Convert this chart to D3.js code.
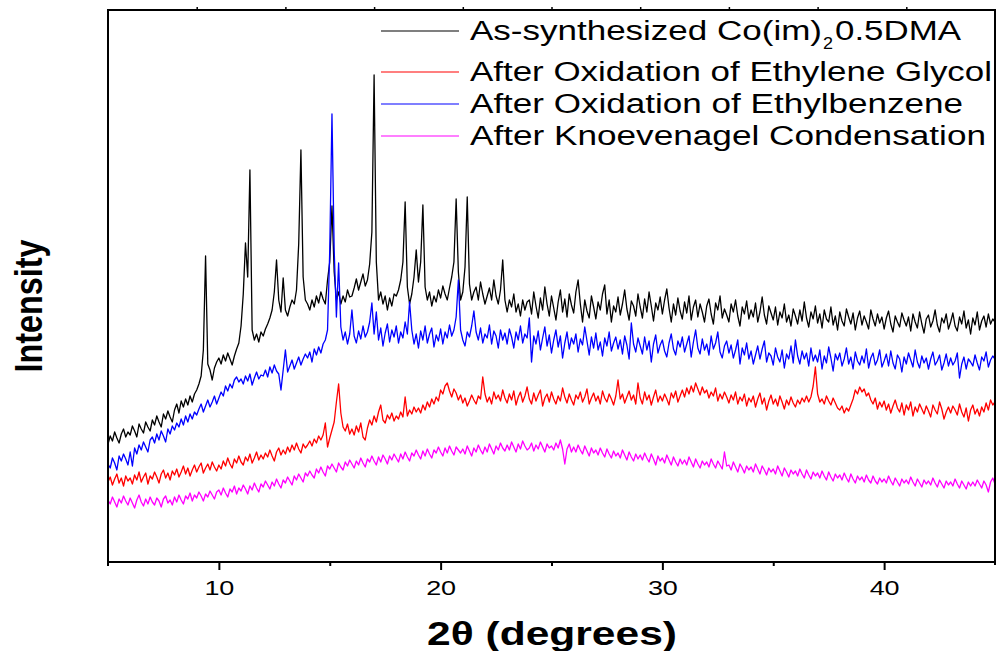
<!DOCTYPE html>
<meta charset="utf-8">
<script src="https://d3js.org/d3.v7.min.js"></script>
<style>
  body { margin: 0; background: #fff; }
  text { font-family: "Liberation Sans", Arial, sans-serif; }
</style>
<div id="chart"></div>
<script>
// 2-theta sampling of the patterns (degrees)
const twoThetaStart = 5, twoThetaStep = 0.1;

// intensities (arbitrary units, offset traces), one row per degree
const asSynth = [
  118,126,121,130,124,119,128,133,125,130,
  127,136,131,125,138,133,129,140,135,131,
  142,137,146,140,135,148,143,151,145,140,
  152,158,149,161,155,163,157,166,160,168,
  172,178,186,212,306,198,192,182,194,200,
  204,198,207,201,209,203,197,206,213,219,
  236,268,319,285,392,232,222,228,220,230,
  226,233,238,244,252,270,302,262,250,284,
  252,246,255,262,258,272,318,412,285,262,
  258,252,262,255,266,259,270,263,258,282,
  300,356,290,262,270,258,266,260,272,265,
  266,274,283,272,280,288,276,282,298,330,
  487,300,262,270,258,266,252,264,256,268,
  266,272,282,300,360,275,258,268,285,312,
  280,300,357,275,262,270,256,266,260,272,
  264,276,268,262,274,285,300,363,290,262,
  270,295,365,278,262,270,275,262,280,268,
  258,266,274,262,282,266,258,272,302,262,
  250,262,255,268,250,258,246,262,252,260,
  262,248,270,256,244,264,252,275,258,246,
  266,254,242,260,272,250,263,245,268,257,
  249,270,282,258,240,262,251,244,266,255,
  243,260,252,268,277,248,262,240,256,250,
  265,247,258,272,253,242,261,256,246,268,
  255,244,263,250,270,256,241,259,252,265,
  248,262,273,254,240,258,247,264,251,243,
  260,249,266,242,255,262,245,258,250,240,
  256,263,248,238,259,252,266,244,253,247,
  240,258,250,262,246,236,255,248,261,243,
  252,245,259,240,250,265,247,238,256,249,
  242,255,237,250,244,258,240,247,236,253,
  246,238,252,241,260,244,235,250,243,256,
  239,248,234,252,243,240,255,237,246,232,
  250,241,236,253,245,238,249,232,244,251,
  237,246,240,233,252,243,236,248,239,245,
  233,244,251,238,230,246,240,235,249,242,
  236,245,231,248,240,234,250,238,229,243,
  247,235,241,252,237,230,244,239,248,233,
  240,249,236,231,245,238,251,234,242,228,
  244,237,250,232,241,246,235,248,238,243,
  240
];

const ethyleneGlycol = [
  80,85,77,83,88,79,84,76,86,81,
  84,78,87,82,90,80,85,89,78,86,
  83,90,85,79,88,92,84,89,82,91,
  87,93,85,90,96,88,94,86,92,97,
  90,95,99,89,94,98,92,100,95,91,
  97,93,101,96,104,98,94,103,99,106,
  100,97,105,101,108,99,104,110,102,107,
  103,109,105,112,106,101,110,114,107,112,
  108,115,110,117,112,119,113,109,118,114,
  117,121,116,123,119,126,122,127,139,115,
  124,132,140,160,178,149,135,131,138,128,
  133,127,136,130,139,125,122,134,142,137,
  146,140,150,157,142,139,147,143,149,141,
  146,143,150,145,165,146,152,148,155,150,
  154,149,157,152,160,155,163,158,165,161,
  172,168,176,179,171,165,173,169,162,167,
  159,164,156,161,167,162,158,166,163,185,
  168,160,165,158,170,163,167,161,172,164,
  159,168,162,171,157,165,170,160,166,175,
  163,158,169,161,167,172,156,164,168,160,
  170,163,158,166,161,174,165,159,168,162,
  157,167,163,170,160,165,173,158,164,169,
  161,166,158,171,164,160,168,163,157,166,
  182,163,168,159,165,171,162,167,158,179,
  164,158,170,162,167,157,165,172,160,166,
  161,168,163,157,169,164,171,160,166,172,
  165,174,168,176,170,179,173,167,175,169,
  172,164,170,166,174,161,168,163,170,165,
  159,167,162,170,158,165,161,168,156,164,
  160,166,155,163,169,158,164,152,161,167,
  158,163,156,166,160,153,162,157,165,159,
  155,162,158,164,160,166,160,165,176,195,
  168,160,163,158,166,161,157,164,159,154,
  152,156,149,154,151,157,163,172,168,175,
  170,173,166,169,162,158,164,153,160,155,
  161,152,158,149,156,162,154,150,159,147,
  157,152,160,146,155,150,158,153,148,156,
  151,145,157,152,148,160,153,143,150,155,
  149,156,152,147,158,150,145,154,141,152,
  157,148,153,146,155,150,159,152,162,157,
  160
];

const ethylbenzene = [
  98,94,104,99,92,106,101,108,103,97,
  110,96,114,108,117,112,120,115,110,122,
  125,119,128,122,131,126,120,133,128,136,
  132,139,135,143,137,146,140,148,143,150,
  147,153,158,150,156,162,155,160,166,158,
  164,170,166,176,171,178,174,182,185,180,
  183,178,186,181,188,177,184,190,183,187,
  186,192,185,195,189,197,191,188,172,192,
  212,190,196,202,193,199,205,197,203,208,
  204,210,200,213,207,215,209,218,222,232,
  312,448,312,245,299,235,222,230,218,228,
  252,226,219,231,223,236,225,230,240,259,
  228,250,222,234,216,229,238,220,232,225,
  236,219,230,224,240,228,260,232,218,228,
  214,231,222,236,219,228,234,215,227,221,
  233,218,230,224,237,226,232,245,282,232,
  222,216,230,225,236,251,230,222,234,219,
  228,224,237,218,231,226,214,232,222,229,
  218,233,225,214,230,222,236,219,228,224,
  244,200,226,218,231,212,224,235,216,227,
  209,222,232,215,226,204,219,230,213,224,
  218,228,210,223,217,235,221,207,225,214,
  229,212,220,206,224,216,230,211,219,225,
  213,222,208,226,217,203,239,218,210,224,
  216,208,225,212,221,200,218,227,209,217,
  222,211,205,219,228,213,207,221,215,225,
  210,218,226,205,220,232,214,208,223,212,
  218,207,226,213,219,230,210,204,216,221,
  209,217,204,212,222,198,214,207,219,203,
  211,198,207,216,203,213,221,200,209,206,
  197,214,205,200,212,194,208,203,216,199,
  222,206,198,211,203,209,196,214,201,207,
  200,212,193,206,199,215,204,191,208,202,
  209,196,203,214,198,205,193,210,201,197,
  206,199,213,194,204,209,197,202,212,195,
  201,208,196,211,199,193,207,203,190,205,
  198,209,202,195,212,200,194,206,199,204,
  193,203,210,197,201,207,192,199,208,196,
  204,197,201,209,184,198,205,193,203,200,
  196,207,199,192,205,201,210,195,202,206,
  203
];

const knoevenagel = [
  62,58,65,60,55,63,59,66,61,57,
  64,59,54,62,67,60,56,63,58,65,
  60,57,64,61,55,63,66,59,62,57,
  65,60,67,62,58,66,63,69,61,67,
  64,70,66,61,68,65,71,67,63,70,
  72,67,74,69,65,73,70,76,68,74,
  71,77,73,68,76,72,79,74,70,78,
  75,81,77,73,80,76,83,78,74,82,
  79,85,81,77,86,82,88,84,80,89,
  86,91,87,84,93,89,95,90,86,96,
  93,98,94,90,99,95,92,100,96,102,
  98,94,101,97,104,99,95,103,100,106,
  101,97,105,100,107,103,98,106,102,108,
  104,100,108,103,110,105,101,109,106,112,
  107,103,111,106,113,108,104,112,109,115,
  110,106,114,109,116,111,107,115,112,109,
  113,108,116,111,106,114,110,117,112,108,
  115,110,118,113,108,116,112,119,114,111,
  117,112,120,115,110,118,113,121,116,112,
  114,119,111,117,113,120,115,110,118,114,
  116,112,119,114,122,113,98,113,118,110,
  115,110,117,112,108,116,111,106,114,109,
  112,107,114,109,105,113,108,104,111,106,
  109,104,112,107,102,110,105,101,108,103,
  107,102,109,104,100,108,103,97,106,101,
  104,99,107,102,97,105,100,96,103,98,
  102,97,105,100,95,103,98,94,101,97,
  100,95,103,98,94,101,97,93,110,96,
  97,92,100,95,90,98,94,89,96,92,
  95,90,98,93,88,96,92,87,94,90,
  93,88,96,91,86,94,90,85,92,88,
  91,86,93,88,84,92,87,83,90,86,
  89,84,91,86,82,90,85,81,88,84,
  87,82,89,84,80,88,83,79,86,82,
  85,80,87,82,79,86,81,78,84,80,
  83,79,86,81,77,84,80,76,83,79,
  82,78,85,80,76,83,79,75,82,78,
  81,77,84,79,75,82,78,74,81,77,
  80,76,83,78,74,81,77,73,80,76,
  80,76,82,78,74,81,77,70,80,84,
  78
];

const majorTicks = [10, 20, 30, 40];
const minorTicks = [15, 25, 35];
const topTicks = [9, 13, 17, 21, 25, 29, 33, 37, 41];

const series = [
  { name: "As-synthesized", values: asSynth, color: "#000000" },
  { name: "After Oxidation of Ethylene Glycol", values: ethyleneGlycol, color: "#ff0000" },
  { name: "After Oxidation of Ethylbenzene", values: ethylbenzene, color: "#0000ff" },
  { name: "After Knoevenagel Condensation", values: knoevenagel, color: "#ff00ff" }
];

const W = 998, H = 651;
const plot = { left: 108, right: 995, top: 10, bottom: 562 };

const svg = d3.select("#chart").append("svg")
  .attr("width", W)
  .attr("height", H);

const x = d3.scaleLinear().domain([5, 45]).range([plot.left, plot.right]);
const y = d3.scaleLinear().domain([0, 552]).range([plot.bottom, plot.top]);

const line = d3.line()
  .x((d, i) => x(twoThetaStart + i * twoThetaStep))
  .y(d => y(d));

// traces
svg.append("g")
  .selectAll("path")
  .data(series)
  .join("path")
  .attr("fill", "none")
  .attr("stroke", d => d.color)
  .attr("stroke-width", 1.3)
  .attr("stroke-linejoin", "round")
  .attr("d", d => line(d.values));

// bottom axis, major and minor
const xAxis = svg.append("g")
  .attr("transform", `translate(0,${plot.bottom})`)
  .call(d3.axisBottom(x).tickValues(majorTicks).tickSize(8).tickPadding(11).tickFormat(d3.format("d")));
xAxis.select(".domain").remove();
xAxis.selectAll(".tick line").attr("stroke-width", 2);
xAxis.selectAll(".tick text")
  .attr("font-size", 20)
  .attr("font-family", "Liberation Sans, Arial, sans-serif")
  .attr("textLength", 30)
  .attr("lengthAdjust", "spacingAndGlyphs");

const xMinor = svg.append("g")
  .attr("transform", `translate(0,${plot.bottom})`)
  .call(d3.axisBottom(x).tickValues(minorTicks).tickSize(4).tickFormat(""));
xMinor.select(".domain").remove();
xMinor.selectAll(".tick line").attr("stroke-width", 2);

const xTop = svg.append("g")
  .attr("transform", `translate(0,${plot.top})`)
  .call(d3.axisTop(x).tickValues(topTicks).tickSize(3).tickFormat(""));
xTop.select(".domain").remove();
xTop.selectAll(".tick line").attr("stroke-width", 1.5);

// frame
svg.append("rect")
  .attr("x", plot.left).attr("y", plot.top)
  .attr("width", plot.right - plot.left).attr("height", plot.bottom - plot.top)
  .attr("fill", "none").attr("stroke", "#000").attr("stroke-width", 2);
svg.append("line")
  .attr("x1", plot.left).attr("x2", plot.left)
  .attr("y1", plot.bottom).attr("y2", plot.bottom + 4)
  .attr("stroke", "#000").attr("stroke-width", 2);
svg.append("line")
  .attr("x1", plot.right).attr("x2", plot.right)
  .attr("y1", plot.bottom).attr("y2", plot.bottom + 3)
  .attr("stroke", "#000").attr("stroke-width", 2);

// axis titles
svg.append("text")
  .attr("x", 552).attr("y", 645)
  .attr("text-anchor", "middle")
  .attr("font-size", 33).attr("font-weight", "bold")
  .attr("textLength", 250).attr("lengthAdjust", "spacingAndGlyphs")
  .text("2θ (degrees)");

svg.append("text")
  .attr("transform", "translate(42,306) rotate(-90)")
  .attr("text-anchor", "middle")
  .attr("font-size", 39).attr("font-weight", "bold")
  .attr("textLength", 133).attr("lengthAdjust", "spacingAndGlyphs")
  .text("Intensity");

// legend
const legendRows = [31, 72, 104, 136];
const legend = svg.append("g");
series.forEach((s, i) => {
  legend.append("line")
    .attr("x1", 381).attr("x2", 459)
    .attr("y1", legendRows[i]).attr("y2", legendRows[i])
    .attr("stroke", s.color).attr("stroke-width", 1.2);
});
const legendText = (xPos, yPos, str, len, size) => legend.append("text")
  .attr("x", xPos).attr("y", yPos)
  .attr("font-size", size)
  .attr("textLength", len).attr("lengthAdjust", "spacingAndGlyphs")
  .text(str);
legendText(470, 40, "As-synthesized Co(im)", 352, 27);
legendText(823, 49, "2", 10, 16);
legendText(835, 40, "0.5DMA", 126, 27);
legendText(470, 81, series[1].name, 522, 27);
legendText(470, 113, series[2].name, 493, 27);
legendText(470, 145, series[3].name, 516, 27);
</script>
